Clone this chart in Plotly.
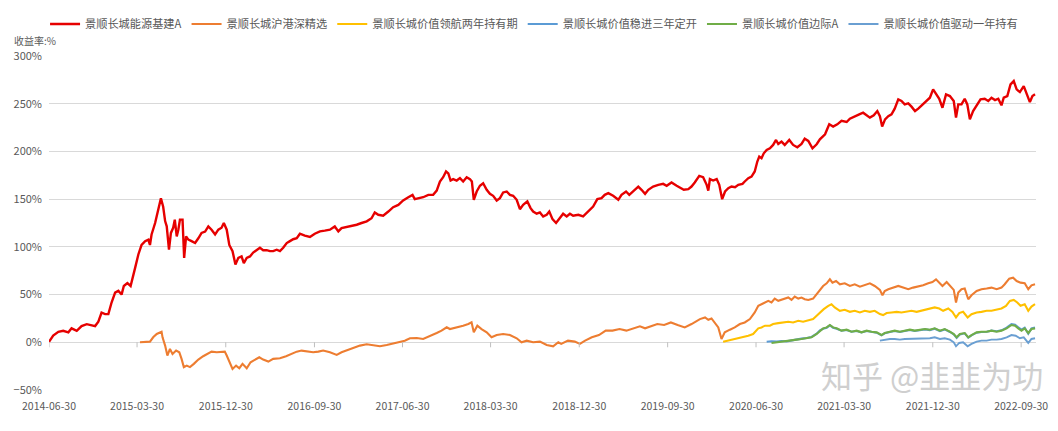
import pandas as pd
import plotly.graph_objects as go

START = pd.Timestamp("2014-06-30")

# x tick labels (category labels of the original chart)
tick_labels = ["2014-06-30", "2015-03-30", "2015-12-30", "2016-09-30", "2017-06-30", "2018-03-30",
               "2018-12-30", "2019-09-30", "2020-06-30", "2021-03-30", "2021-12-30", "2022-09-30"]

names = ["景顺长城能源基建A", "景顺长城沪港深精选", "景顺长城价值领航两年持有期",
         "景顺长城价值稳进三年定开", "景顺长城价值边际A", "景顺长城价值驱动一年持有"]
colors = ["#e60000", "#ed7d31", "#ffc000", "#5b9bd5", "#70ad47", "#6a9fd2"]

# ---- series: days since 2014-06-30 and cumulative return (%) ----
red_day = [0, 13, 29, 44, 60, 70, 86, 101, 117, 127, 143, 153, 163, 174, 184, 194, 205, 215, 225, 232,
           243, 253, 259, 267, 277, 287, 298, 308, 313, 318, 329, 336, 342, 347, 354, 360, 365, 372, 378, 385,
           390, 396, 401, 406, 414, 419, 425, 432, 442, 453, 463, 473, 484, 494, 504, 515, 525, 535, 542, 551,
           559, 569, 578, 587, 597, 604, 613, 623, 633, 644, 654, 664, 675, 685, 695, 706, 716, 726, 737, 747,
           757, 768, 778, 793, 809, 824, 840, 855, 871, 886, 897, 907, 923, 938, 954, 969, 985, 1000, 1010, 1021,
           1036, 1052, 1067, 1083, 1098, 1114, 1127, 1134, 1145, 1160, 1176, 1191, 1202, 1212, 1222, 1231, 1238, 1245, 1253, 1264,
           1274, 1284, 1295, 1305, 1311, 1317, 1326, 1336, 1346, 1357, 1367, 1377, 1388, 1398, 1408, 1419, 1429, 1439, 1450, 1460,
           1470, 1483, 1493, 1501, 1512, 1522, 1532, 1543, 1551, 1561, 1572, 1579, 1594, 1605, 1615, 1625, 1641, 1656, 1672, 1687,
           1700, 1713, 1723, 1734, 1749, 1765, 1775, 1789, 1799, 1811, 1827, 1837, 1848, 1858, 1873, 1889, 1904, 1915, 1930, 1946,
           1958, 1968, 1982, 1992, 2002, 2016, 2028, 2039, 2044, 2049, 2059, 2070, 2078, 2087, 2096, 2106, 2116, 2127, 2137, 2150,
           2157, 2168, 2178, 2188, 2196, 2202, 2209, 2216, 2225, 2235, 2245, 2254, 2261, 2271, 2281, 2295, 2307, 2320, 2333, 2343,
           2354, 2367, 2380, 2390, 2406, 2419, 2431, 2444, 2457, 2473, 2483, 2498, 2512, 2524, 2535, 2545, 2557, 2568, 2576, 2583,
           2592, 2602, 2612, 2622, 2633, 2643, 2653, 2664, 2674, 2685, 2695, 2705, 2719, 2731, 2741, 2750, 2760, 2770, 2781, 2793,
           2805, 2812, 2819, 2829, 2839, 2847, 2855, 2865, 2876, 2888, 2901, 2912, 2922, 2933, 2943, 2953, 2960, 2971, 2981, 2991,
           3000, 3010, 3022, 3033, 3041, 3049, 3057]
red_val = [0.5, 7, 11, 12, 10.4, 14.6, 12, 17, 19, 18, 17, 21.5, 31, 29.5, 29.5, 41.7, 52, 54, 50, 59,
           62, 59, 66, 78, 92, 102, 106, 107.6, 102, 113, 125, 135, 144, 151, 142, 127, 121.5, 97, 114.6, 120,
           128.5, 111, 118, 128.5, 128.5, 88.5, 111, 107.6, 106, 104, 109, 114.6, 116, 121.5, 118, 113, 118, 120, 125, 118,
           102, 95.5, 81.6, 88.5, 90, 83, 88.5, 90, 94, 97, 99, 96.5, 96.5, 95.5, 95.5, 97, 95.5, 99, 104, 106,
           108, 109, 113.8, 111.7, 110.3, 113.8, 116.2, 117, 118, 121.4, 116.2, 119.7, 120.7, 122, 123.2, 125, 126.7, 130, 136, 133.6,
           132.6, 137, 141.6, 144, 148.6, 152, 154.5, 150, 151, 152, 154.5, 154.5, 159, 168.5, 173, 179, 177, 169.5, 171, 169.5,
           172, 168.5, 173, 171, 168.5, 149.3, 158, 164, 166.7, 159.8, 155.6, 153.5, 148.6, 151, 157, 158, 154.5, 153.5, 149.3, 139.5,
           144, 147.6, 140.6, 137, 134.7, 136, 131.9, 133.6, 137, 129, 125, 128.4, 134.7, 131.9, 134.7, 132.6, 133.6, 131.9, 137, 142.3,
           150, 151, 154.5, 156.3, 153.5, 149.3, 154.5, 158, 154.5, 158, 163.2, 159.8, 155.6, 159.8, 163.2, 165, 166, 164, 167.4, 164,
           161.5, 159.8, 160.5, 163.2, 167.4, 174.4, 173, 165, 159, 171, 169.5, 171, 165, 150, 158, 161.5, 163.2, 162.5, 165, 166,
           168.5, 172, 173.7, 179, 189.4, 194.6, 192.9, 198, 201.6, 203.3, 206.8, 212, 207.8, 210.3, 206.8, 212, 206.8, 204.4, 207.8, 213.4,
           211, 203.3, 207.5, 212.7, 218, 228.4, 226, 228.4, 232, 230.8, 234.3, 237, 238.9, 240.6, 237.8, 235.4, 237.8, 242.3, 237, 226,
           233.6, 237, 238.9, 244.8, 254.5, 252.8, 249.3, 250.3, 246.9, 242.3, 244.8, 248.3, 252.8, 256.3, 265, 260.8, 255.2, 245.8, 259.8, 258,
           252.8, 235.4, 249.3, 249.3, 255.2, 249.3, 233.6, 242.3, 248.3, 254.5, 255.2, 252.8, 256.3, 253.8, 255.2, 248.3, 256.3, 258, 270.2, 273.7,
           265, 262.2, 268.5, 258, 251.7, 258, 259.8]

orange_day = [282, 297, 313, 323, 334, 349, 352, 360, 367, 375, 383, 394, 404, 411, 418, 427, 437, 449, 463, 478,
              491, 504, 520, 532, 545, 551, 559, 569, 580, 590, 600, 613, 625, 638, 652, 664, 680, 695, 716, 735,
              752, 768, 783, 799, 819, 835, 850, 871, 892, 907, 923, 943, 964, 985, 1005, 1026, 1047, 1067, 1088, 1103,
              1119, 1140, 1160, 1181, 1202, 1217, 1233, 1243, 1253, 1269, 1284, 1300, 1310, 1317, 1328, 1341, 1357, 1372, 1388, 1408,
              1429, 1450, 1465, 1481, 1501, 1522, 1543, 1563, 1579, 1588, 1609, 1630, 1646, 1662, 1683, 1705, 1726, 1747, 1769, 1790,
              1811, 1832, 1848, 1870, 1886, 1907, 1928, 1949, 1971, 1992, 2018, 2034, 2044, 2054, 2064, 2075, 2085, 2095, 2111, 2126,
              2142, 2157, 2173, 2188, 2199, 2209, 2220, 2230, 2240, 2250, 2261, 2271, 2281, 2292, 2302, 2312, 2323, 2333, 2343, 2354,
              2369, 2380, 2390, 2400, 2411, 2421, 2429, 2440, 2452, 2467, 2483, 2498, 2514, 2529, 2545, 2560, 2576, 2584, 2591, 2602,
              2617, 2633, 2648, 2664, 2679, 2695, 2710, 2726, 2739, 2750, 2760, 2770, 2783, 2795, 2805, 2812, 2819, 2829, 2839, 2850,
              2860, 2876, 2891, 2907, 2922, 2938, 2953, 2963, 2977, 2989, 3000, 3012, 3025, 3036, 3046, 3057]
orange_val = [0, 0.7, 0.7, 5.2, 8.7, 11.1, 5.2, -3.5, -13.9, -7, -12.2, -8.7, -10.5, -17.4, -26, -24.4, -26, -22.6, -18.1, -14.6,
              -12.2, -9.8, -10.5, -9.8, -9.8, -13.9, -20.9, -27.9, -24.4, -27.2, -22.6, -27.2, -20.9, -18.1, -15.7, -18.1, -20.2, -17.4, -16.7, -14.6,
              -12.2, -9.8, -8.7, -9.8, -10.5, -9.8, -8.7, -10.5, -13.2, -10.5, -8.7, -6.3, -3.5, -2.1, -3.5, -4.2, -2.8, -1.4, 0, 1.7,
              4.2, 4.5, 3.5, 6.3, 9.8, 12.2, 15.7, 13.9, 14.6, 15.7, 17.4, 19.2, 20.9, 10.5, 17.4, 13.9, 10.5, 5.2, 7.7, 8.7,
              7.7, 4.2, 0, 1.7, 0, 0.7, -2.8, -4.2, 0, -1.7, 1.7, 0.7, -1.7, 1.7, 5.2, 7.6, 12.2, 12.2, 13.9, 12.2,
              14.6, 16.7, 14.6, 17.4, 19.1, 18.1, 20.8, 18.1, 15.6, 19.1, 24.3, 26, 23.6, 25, 20.8, 15.6, 3.5, 10.4, 13.2, 15.6,
              19.1, 20.8, 24.3, 31.3, 38.2, 39.9, 41.7, 43.4, 41.7, 45.8, 43.4, 44.4, 45.1, 46.9, 44.4, 47.9, 45.8, 46.9, 45.1, 44.4,
              45.8, 50.3, 55.6, 59, 61.8, 66, 62.5, 64.2, 60.8, 61.8, 59, 60.8, 58.3, 59.7, 61.8, 59, 54.9, 49.3, 53.8, 55.6,
              57.3, 59, 57.3, 55.6, 57.3, 58.3, 59.7, 61.8, 63.2, 66, 62.5, 59, 63.2, 59, 54.9, 41.7, 52.1, 55.6, 56.3, 45.1,
              49.3, 53.8, 55.6, 56.3, 57.3, 55.6, 57.3, 60.8, 66.7, 67.7, 64.2, 62.5, 61.8, 55.6, 59.7, 60.8]

yellow_day = [2090, 2106, 2121, 2137, 2152, 2168, 2183, 2199, 2209, 2220, 2235, 2245, 2261, 2276, 2292, 2307, 2323, 2338, 2354, 2369,
              2380, 2390, 2402, 2416, 2426, 2436, 2452, 2467, 2483, 2498, 2514, 2529, 2545, 2560, 2576, 2586, 2597, 2612, 2628, 2643,
              2659, 2674, 2690, 2705, 2721, 2736, 2746, 2760, 2772, 2788, 2801, 2812, 2822, 2834, 2848, 2860, 2876, 2891, 2907, 2922,
              2938, 2953, 2967, 2979, 2991, 3002, 3012, 3025, 3036, 3046, 3057]
yellow_val = [0.5, 1.7, 2.8, 4.2, 5.2, 6.9, 8.7, 14.6, 15.6, 17.4, 17.4, 19.1, 20.1, 20.8, 21.5, 20.8, 22.6, 21.5, 22.6, 24.3,
              27.8, 31.3, 34.7, 38.2, 39.9, 36.5, 33, 34, 31.9, 33, 31.3, 33, 31.9, 33, 29.5, 28.5, 30.6, 31.3, 31.9, 31.3,
              31.9, 33, 31.9, 33, 34, 35.4, 36.5, 35.4, 33, 35.4, 31.9, 26, 30.6, 31.9, 26, 29.5, 31.3, 31.9, 33, 33,
              34, 35.4, 38.2, 43.4, 44.4, 41.7, 38.2, 39.9, 33, 37.5, 39.9]

steady_day = [2225, 2240, 2256, 2271, 2287, 2302, 2318, 2333, 2349, 2364, 2380, 2390, 2400, 2411, 2421, 2431, 2442, 2457, 2473, 2488,
              2504, 2519, 2535, 2550, 2566, 2581, 2591, 2607, 2622, 2638, 2653, 2669, 2684, 2700, 2716, 2731, 2746, 2762, 2777, 2793,
              2805, 2814, 2824, 2839, 2850, 2860, 2876, 2891, 2907, 2922, 2938, 2953, 2969, 2984, 2995, 3005, 3015, 3025, 3036, 3046,
              3057]
steady_val = [0.5, 1.0, 0.7, 1.4, 1.0, 2.1, 3.1, 3.8, 4.5, 5.6, 9.0, 12.5, 14.2, 15.3, 17.7, 15.3, 14.2, 12.2, 12.8, 11.1,
              11.8, 10.4, 11.8, 11.1, 10.1, 7.3, 9.4, 10.8, 11.8, 10.8, 11.8, 12.8, 11.8, 12.8, 13.5, 12.8, 14.2, 11.8, 13.5, 10.8,
              8.3, 4.5, 8.3, 9.4, 4.9, 7.3, 10.1, 10.8, 11.1, 12.2, 11.5, 12.5, 15.3, 19.1, 18.4, 15.6, 13.2, 15.3, 9.0, 14.6,
              15.6]

margin_day = [2240, 2256, 2271, 2287, 2302, 2318, 2333, 2349, 2364, 2380, 2390, 2400, 2411, 2421, 2431, 2442, 2457, 2473, 2488, 2504,
              2519, 2535, 2550, 2566, 2581, 2591, 2607, 2622, 2638, 2653, 2669, 2684, 2700, 2716, 2731, 2746, 2762, 2777, 2793, 2805,
              2814, 2824, 2839, 2850, 2860, 2876, 2891, 2907, 2922, 2938, 2953, 2969, 2984, 2995, 3005, 3015, 3025, 3036, 3046, 3057]
margin_val = [-0.7, 0, 0.7, 0.7, 1.7, 2.8, 3.5, 4.2, 5.2, 8.7, 12.2, 14.6, 15.6, 18.1, 15.6, 14.6, 12.2, 13.2, 11.1, 12.2,
              10.4, 12.2, 11.1, 10.4, 7.6, 9.7, 11.1, 12.2, 11.1, 12.2, 13.2, 12.2, 13.2, 13.9, 13.2, 14.6, 12.2, 13.9, 11.1, 8.7,
              5.2, 8.7, 9.7, 5.2, 7.6, 10.4, 11.1, 11.1, 12.2, 11.1, 12.2, 14.6, 18.1, 17.4, 14.6, 12.2, 14.6, 9.7, 13.9, 14.6]

drive_day = [2576, 2591, 2607, 2622, 2638, 2653, 2669, 2684, 2700, 2716, 2731, 2746, 2762, 2777, 2793, 2805, 2812, 2822, 2834, 2848,
             2860, 2876, 2891, 2907, 2922, 2938, 2953, 2969, 2984, 2997, 3010, 3022, 3036, 3046, 3057]
drive_val = [1.7, 2.8, 3.5, 3.5, 2.8, 3.5, 3.5, 4.2, 3.5, 3.5, 4.2, 5.2, 3.5, 4.2, 2.8, 0, -4.2, -0.7, 0, -4.2,
             -1.7, 0.7, 1.7, 1.7, 2.8, 2.8, 3.5, 5.2, 7.6, 6.9, 4.2, 5.2, -0.7, 3.5, 4.2]

series_days = [red_day, orange_day, yellow_day, steady_day, margin_day, drive_day]
series_vals = [red_val, orange_val, yellow_val, steady_val, margin_val, drive_val]
widths = [2.4, 2.1, 2.1, 2.1, 2.1, 1.9]


def to_dates(days):
    return START + pd.to_timedelta(days, unit="D")


FONT = "Noto Sans CJK SC, Microsoft YaHei, sans-serif"
GREY = "#595959"

fig = go.Figure()
for name, col, d, v, w in zip(names, colors, series_days, series_vals, widths):
    fig.add_trace(go.Scatter(x=to_dates(d), y=v, name=name, mode="lines",
                             line=dict(color=col, width=w)))

# small tick marks on the 0% line at each category label
for t in tick_labels:
    fig.add_shape(type="line", xref="x", yref="y", x0=t, x1=t, ysizemode="pixel",
                  yanchor=0, y0=0, y1=-5, line=dict(color="#bfbfbf", width=1))

# the page body adds an 8px margin around the figure, so the figure is sized to fit the window
fig.update_layout(
    width=1042, height=415,
    margin=dict(l=41, r=14, t=48, b=33, autoexpand=False),
    paper_bgcolor="white", plot_bgcolor="white",
    font=dict(family=FONT, color=GREY, size=11),
    showlegend=True,
    legend=dict(orientation="h", x=-0.004, xanchor="left", y=1.096, yanchor="middle",
                font=dict(size=11.2, color=GREY, family=FONT), itemwidth=30,
                bgcolor="rgba(0,0,0,0)"),
    xaxis=dict(type="date", range=["2014-06-30", "2022-11-15"], automargin=False,
               tickvals=tick_labels, ticktext=tick_labels,
               showgrid=False, zeroline=False, showline=False, ticks="",
               tickfont=dict(size=10.5, color=GREY), ticklabelstandoff=8),
    yaxis=dict(range=[-50, 300], dtick=50, ticksuffix="%", automargin=False,
               showgrid=True, gridcolor="#d9d9d9", gridwidth=1,
               zeroline=False, showline=False, ticks="",
               tickfont=dict(size=11, color=GREY), ticklabelstandoff=6),
    annotations=[
        dict(text="收益率:%", xref="paper", yref="paper", x=-0.037, y=1.045,
             xanchor="left", yanchor="middle", showarrow=False,
             font=dict(size=10, color=GREY, family=FONT)),
        dict(text="知乎 @韭韭为功", xref="paper", yref="paper", x=0.895, y=0.045,
             xanchor="center", yanchor="middle", showarrow=False,
             font=dict(size=31, color="#cfcfcf", family=FONT)),
    ],
)

fig.write_html("out.html")
